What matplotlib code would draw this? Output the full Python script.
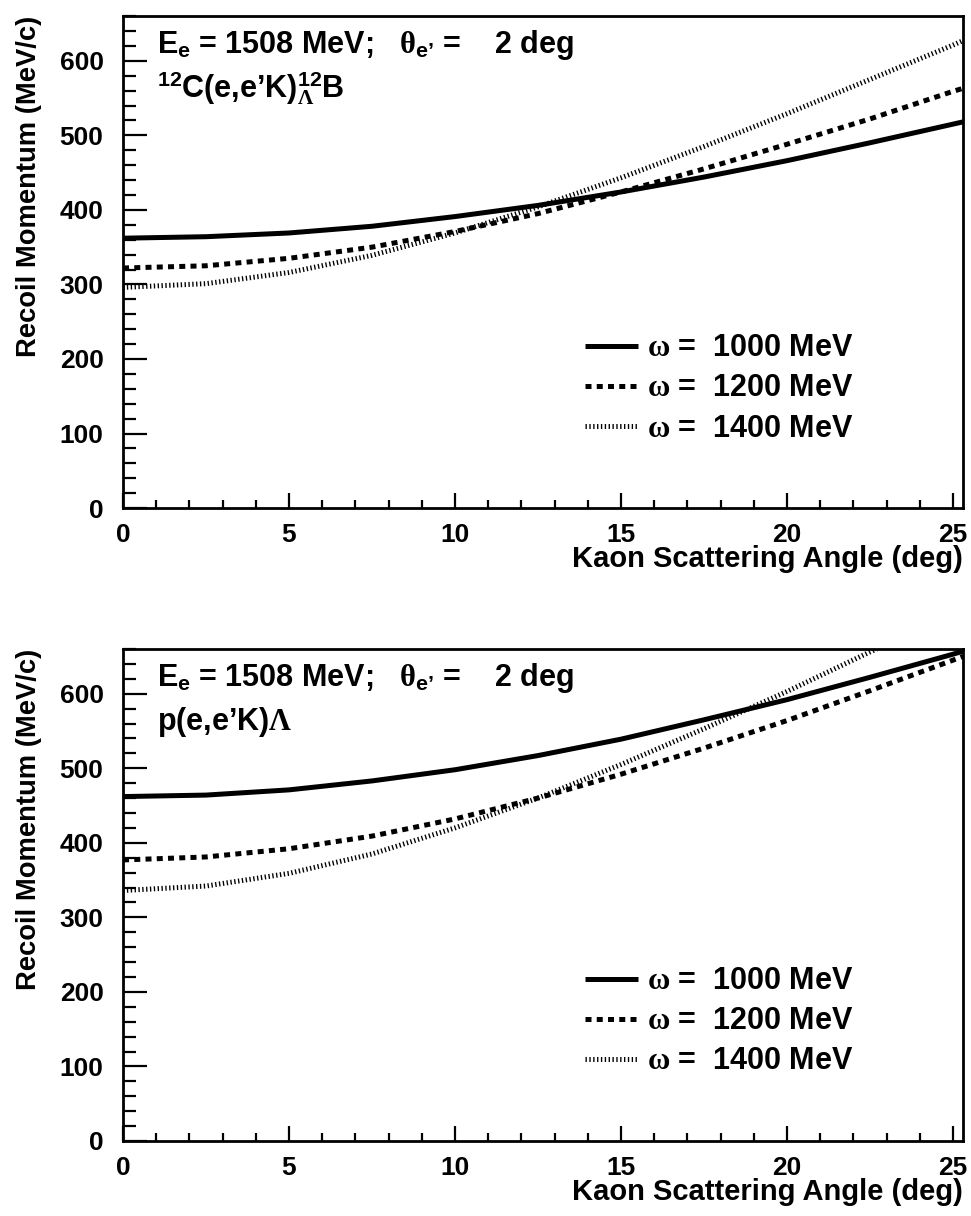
import numpy as np
import matplotlib
matplotlib.use('Agg')
import matplotlib.pyplot as plt
from matplotlib.ticker import MultipleLocator

plt.rcParams['font.family'] = ['Liberation Sans', 'DejaVu Sans']
plt.rcParams['font.weight'] = 'bold'
plt.rcParams['mathtext.fontset'] = 'custom'
plt.rcParams['mathtext.rm'] = 'Liberation Serif'
plt.rcParams['mathtext.bf'] = 'Liberation Sans:bold'
plt.rcParams['mathtext.it'] = 'Liberation Serif'

# kaon angle (deg) and recoil momentum (MeV/c) for each photon energy
theta = [0, 2.5, 5, 7.5, 10, 12.5, 15, 17.5, 20, 22.5, 25, 25.3]
c12_1000 = [362, 364, 369, 378, 391, 406, 424, 444, 466, 490, 515, 518]
c12_1200 = [322, 325, 335, 350, 371, 395, 424, 455, 488, 522, 559, 563]
c12_1400 = [296, 301, 316, 339, 369, 404, 443, 485, 529, 575, 621, 627]

p_1000 = [462, 464, 471, 483, 498, 517, 539, 565, 592, 622, 653, 657]
p_1200 = [377, 381, 392, 409, 432, 460, 492, 527, 564, 604, 645, 650]
theta_p1400 = [0, 2.5, 5, 7.5, 10, 12.5, 15, 17.5, 20, 22.5, 22.7]
p_1400 = [336, 342, 359, 385, 420, 460, 505, 553, 603, 656, 660]

omegas = [1000, 1200, 1400]
labels = [r'$\mathrm{\omega}$ =  %d MeV' % w for w in omegas]

head1 = r"E$_{\mathbf{e}}$ = 1508 MeV;   $\mathrm{\theta}_{\mathbf{e’}}$ =    2 deg"
head2_c = r"${}^{\mathbf{12}}$C(e,e’K)${}_{\mathrm{\Lambda}}^{\mathbf{12}}$B"
head2_p = r"p(e,e’K)$\mathrm{\Lambda}$"

fig = plt.figure(figsize=(9.71, 12.16), dpi=100)
ax1 = fig.add_axes([0.1267, 0.5822, 0.865, 0.4046])
ax2 = fig.add_axes([0.1267, 0.0617, 0.865, 0.4046])


def draw(ax, curves, reaction):
    styles = [dict(ls='-'),
              dict(ls=(0, (1.2, 1.05))),
              dict(ls=(0, (0.27, 0.5)))]
    for (x, y), st, lab in zip(curves, styles, labels):
        ax.plot(x, y, color='black', lw=3.6, solid_capstyle='butt',
                dash_capstyle='butt', label=lab, **st)
    ax.set_xlim(0, 25.3)
    ax.set_ylim(0, 660)
    ax.xaxis.set_major_locator(MultipleLocator(5))
    ax.xaxis.set_minor_locator(MultipleLocator(1))
    ax.yaxis.set_major_locator(MultipleLocator(100))
    ax.yaxis.set_minor_locator(MultipleLocator(20))
    ax.tick_params(axis='both', which='both', direction='in', width=1.6,
                   top=False, right=False, labelsize=19)
    ax.tick_params(axis='y', which='major', length=17, pad=14)
    ax.tick_params(axis='y', which='minor', length=9)
    ax.tick_params(axis='x', which='major', length=11, pad=11)
    ax.tick_params(axis='x', which='minor', length=5.5)
    for lab in ax.get_xticklabels() + ax.get_yticklabels():
        lab.set_fontweight('bold')
    for sp in ax.spines.values():
        sp.set_linewidth(2)
    ax.set_xlabel('Kaon Scattering Angle (deg)', fontsize=21,
                  fontweight='bold', loc='right')
    ax.xaxis.set_label_coords(1.0, -0.076)
    ax.set_ylabel('Recoil Momentum (MeV/c)', fontsize=19.7,
                  fontweight='bold', loc='top')
    ax.yaxis.set_label_coords(-0.097, 1.0)
    ax.text(0.04, 0.925, head1, transform=ax.transAxes, fontsize=22)
    ax.text(0.04, 0.835, reaction, transform=ax.transAxes, fontsize=22)
    leg = ax.legend(loc='upper left', bbox_to_anchor=(0.55, 0.355),
                    frameon=False, fontsize=22, handlelength=1.72,
                    handletextpad=0.3, labelspacing=0.33,
                    borderpad=0, borderaxespad=0)
    for t in leg.get_texts():
        t.set_fontweight('bold')


draw(ax1, [(theta, c12_1000), (theta, c12_1200), (theta, c12_1400)], head2_c)
draw(ax2, [(theta, p_1000), (theta, p_1200), (theta_p1400, p_1400)], head2_p)

fig.savefig('out.png', dpi=100)
